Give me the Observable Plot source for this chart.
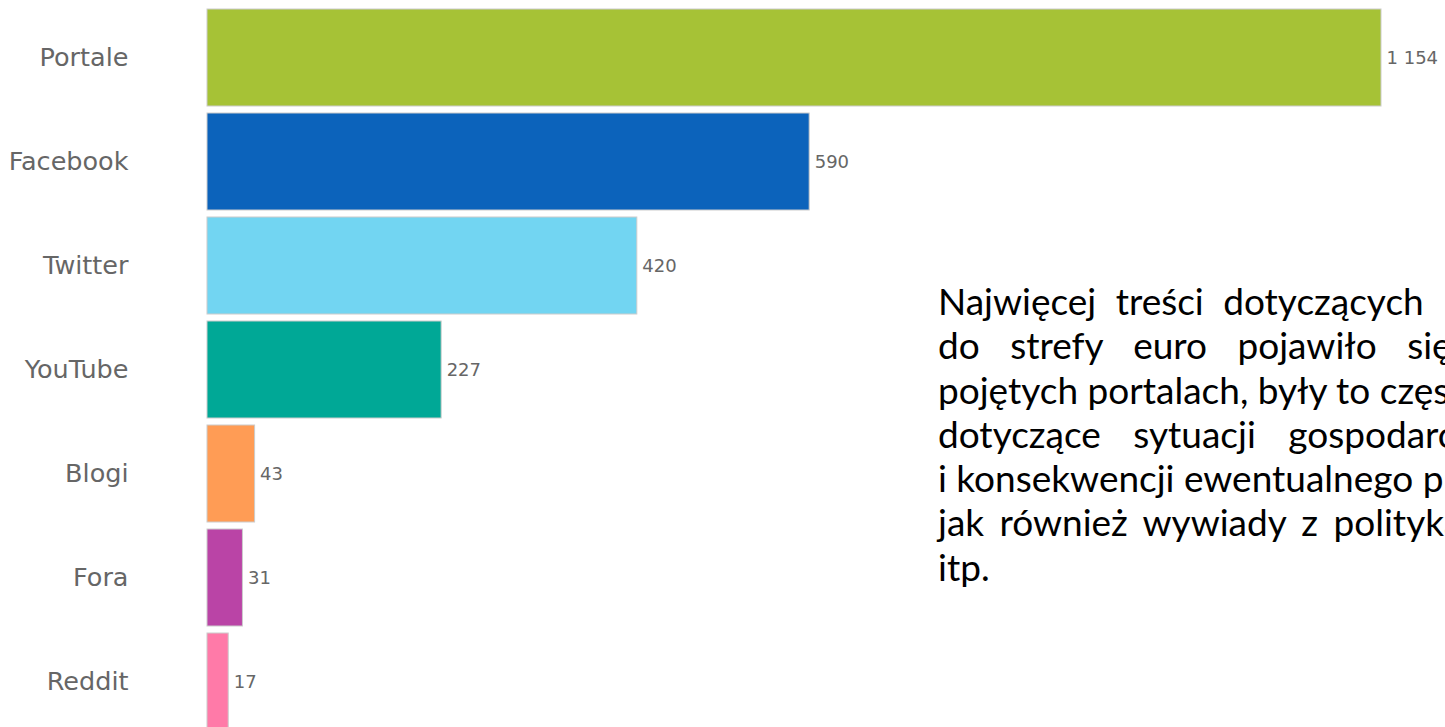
<!DOCTYPE html>
<html>
<head>
<meta charset="utf-8">
<script src="https://cdn.jsdelivr.net/npm/d3@7"></script>
<script src="https://cdn.jsdelivr.net/npm/@observablehq/plot@0.6"></script>
<style>
  html, body { margin: 0; padding: 0; background: #fff; overflow: hidden; }
  #wrap { position: relative; width: 1445px; height: 727px; overflow: hidden; }
  #note {
    position: absolute; left: 938px; top: 279px;
    font-family: Lato, sans-serif; font-size: 37px; line-height: 44.3px;
    color: #000; margin: 0;
  }
  #note div { white-space: nowrap; }
</style>
</head>
<body>
<div id="wrap"><div id="note"></div></div>
<script>
const categories = ["Portale", "Facebook", "Twitter", "YouTube", "Blogi", "Fora", "Reddit"];
const values = [1154, 590, 420, 227, 43, 31, 17];
const colors = ["#a6c236", "#0c63bb", "#72d5f2", "#00a896", "#ff9c55", "#ba44a6", "#ff7aa8"];
const noteLines = [
  "Najwięcej treści dotyczących przystąpienia Polski",
  "do strefy euro pojawiło się na szeroko",
  "pojętych portalach, były to często artykuły",
  "dotyczące sytuacji gospodarczej w Europie",
  "i konsekwencji ewentualnego przyjęcia euro,",
  "jak również wywiady z politykami, ekonomistami",
  "itp."
];
const noteSpacing = [10, 21, 0, 23, 0, 6, 0];

const data = categories.map((c, i) => ({category: c, value: values[i], color: colors[i]}));
const fmt = d3.formatLocale({thousands: "\u00a0", grouping: [3], decimal: ","}).format(",d");

const chart = Plot.plot({
  width: 1445,
  height: 737,
  marginLeft: 211,
  marginRight: 64,
  marginTop: 1.5,
  marginBottom: 0,
  style: {fontFamily: "DejaVu Sans", background: "transparent"},
  x: {domain: [0, 1154], axis: null},
  y: {domain: categories, padding: 0.065, label: null},
  marks: [
    Plot.barX(data, {x: "value", y: "category", fill: "color", stroke: "#cccccc", strokeWidth: 1, insetLeft: -4}),
    Plot.text(data, {x: "value", y: "category", text: d => fmt(d.value), textAnchor: "start", dx: 5, fill: "#666", fontSize: 18}),
    Plot.axisY({tickSize: 0, tickPadding: 83, fontSize: 25.5, color: "#666", label: null})
  ]
});
chart.style.position = "absolute";
chart.style.left = "0";
chart.style.top = "0";
const wrap = document.getElementById("wrap");
wrap.insertBefore(chart, wrap.firstChild);
const note = document.getElementById("note");
noteLines.forEach((t, i) => {
  const div = document.createElement("div");
  div.textContent = t;
  div.style.wordSpacing = noteSpacing[i] + "px";
  note.appendChild(div);
});
</script>
</body>
</html>
